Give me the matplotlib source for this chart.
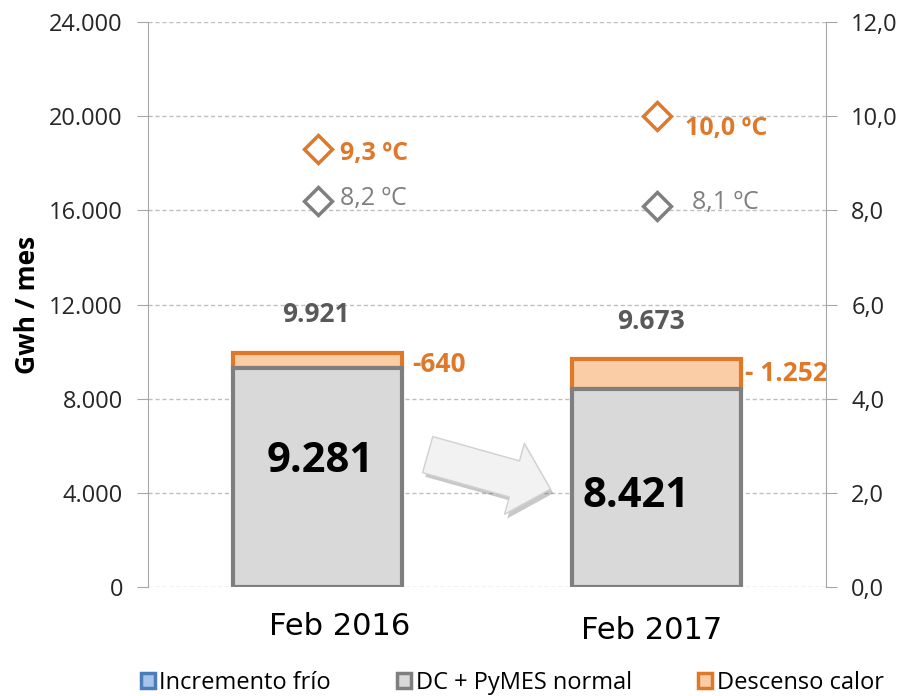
import matplotlib.pyplot as plt
from matplotlib.patches import FancyArrowPatch, Patch
from matplotlib.ticker import FuncFormatter
import matplotlib.patheffects as pe

plt.rcParams['font.family'] = ['Open Sans', 'DejaVu Sans']

categories = ['Feb 2016', 'Feb 2017']
incremento_frio = [0, 0]
dc_pymes = [9281, 8421]
descenso_calor = [640, 1252]
totals = [9921, 9673]
temp_actual = [9.3, 10.0]
temp_normal = [8.2, 8.1]
label_descenso = ['-640', '- 1.252']
label_actual = ['9,3 ºC', '10,0 ºC']
label_normal = ['8,2 ºC', '8,1 ºC']

grey_edge = '#7f7f7f'
grey_fill = '#d9d9d9'
orange = '#e0782a'
orange_fill = '#fbcda6'
blue_edge = '#4a7ebb'
blue_fill = '#a6c4ea'


def miles(v):
    return f'{int(v):,}'.replace(',', '.')


fig = plt.figure(figsize=(9.02, 6.96), dpi=100)
ax = fig.add_axes([0.164, 0.157, 0.752, 0.811])
ax2 = ax.twinx()

x = list(range(len(categories)))
w = 0.5
ax.bar(x, incremento_frio, w, color=blue_fill, edgecolor=blue_edge, lw=3, zorder=3)
ax.bar(x, dc_pymes, w, color=grey_fill, edgecolor=grey_edge, lw=3, zorder=3)
ax.bar(x, descenso_calor, w, bottom=dc_pymes, color=orange_fill, edgecolor=orange, lw=3, zorder=2)

ax.set_xlim(-0.5, 1.5)
ax.set_ylim(0, 24000)
ax.set_yticks(range(0, 24001, 4000))
ax.yaxis.set_major_formatter(FuncFormatter(lambda v, p: miles(v)))
ax.set_xticks([])
ax.tick_params(axis='y', labelsize=17, color='#a6a6a6', length=8, pad=10, labelcolor='#262626')
ax.grid(axis='y', ls=(0, (3, 2)), color='#bfbfbf', lw=1, zorder=0)
ax.set_ylabel('Gwh / mes', fontsize=19, fontweight='bold')
ax.yaxis.set_label_coords(-0.158, 0.5)
for s in ['top', 'bottom']:
    ax.spines[s].set_visible(False)
    ax2.spines[s].set_visible(False)
ax.spines['left'].set_color('#a6a6a6')
ax.spines['right'].set_visible(False)
ax2.spines['left'].set_visible(False)
ax2.spines['right'].set_color('#a6a6a6')

ax2.set_ylim(0, 12)
ax2.set_yticks(range(0, 13, 2))
ax2.yaxis.set_major_formatter(FuncFormatter(lambda v, p: f'{v:.1f}'.replace('.', ',')))
ax2.tick_params(axis='y', labelsize=17, color='#a6a6a6', length=8, pad=10, labelcolor='#262626')

ax2.plot(x, temp_actual, ls='none', marker='D', ms=14, mfc='white', mec=orange, mew=2.5, zorder=5)
ax2.plot(x, temp_normal, ls='none', marker='D', ms=14, mfc='white', mec=grey_edge, mew=2.5, zorder=5)

# category labels (placed like text boxes)
ax.text(0.066, -0.071, categories[0], transform=ax.get_xaxis_transform(), family='DejaVu Sans',
        fontsize=22, ha='center', va='center')
ax.text(0.984, -0.077, categories[1], transform=ax.get_xaxis_transform(), family='DejaVu Sans',
        fontsize=22, ha='center', va='center')

# temperature labels
ax2.text(0.066, 9.22, label_actual[0], color=orange, fontsize=18, fontweight='bold', va='center')
ax2.text(1.084, 9.75, label_actual[1], color=orange, fontsize=18, fontweight='bold', va='center')
ax2.text(0.066, 8.26, label_normal[0], color=grey_edge, fontsize=18, va='center')
ax2.text(1.105, 8.16, label_normal[1], color=grey_edge, fontsize=18, va='center')

# totals and deltas
ax.text(-0.004, 11554, miles(totals[0]), color='#595959', fontsize=19, fontweight='bold',
        ha='center', va='center')
ax.text(0.984, 11257, miles(totals[1]), color='#595959', fontsize=19, fontweight='bold',
        ha='center', va='center')
ax.text(0.279, 9450, label_descenso[0], color=orange, fontsize=19, fontweight='bold', va='center')
ax.text(1.261, 9050, label_descenso[1], color=orange, fontsize=19, fontweight='bold', va='center')

ax.text(0.007, 5310, miles(dc_pymes[0]), fontsize=30, fontweight='bold', ha='center', va='center', zorder=6)
ax.text(0.94, 3823, miles(dc_pymes[1]), fontsize=30, fontweight='bold', ha='center', va='center', zorder=6)

arrow = FancyArrowPatch((0.317, 5650), (0.695, 4120),
                        arrowstyle='simple,head_width=5.3,head_length=2.7,tail_width=2.7',
                        mutation_scale=10, fc='#f2f2f2', ec='#d0d0d0', lw=1, zorder=7,
                        path_effects=[pe.SimplePatchShadow(offset=(2, -3), alpha=0.3), pe.Normal()])
ax.add_patch(arrow)

handles = [Patch(fc=blue_fill, ec=blue_edge, lw=2.5),
           Patch(fc=grey_fill, ec=grey_edge, lw=2.5),
           Patch(fc=orange_fill, ec=orange, lw=2.5)]
fig.legend(handles, ['Incremento frío', 'DC + PyMES normal', 'Descenso calor'],
           loc='center', bbox_to_anchor=(0.568, 0.019), ncol=3, frameon=False,
           fontsize=17, handlelength=0.6, handleheight=0.6, handletextpad=0.2, columnspacing=2.8,
           borderpad=0)

fig.savefig('out.png', dpi=100)
